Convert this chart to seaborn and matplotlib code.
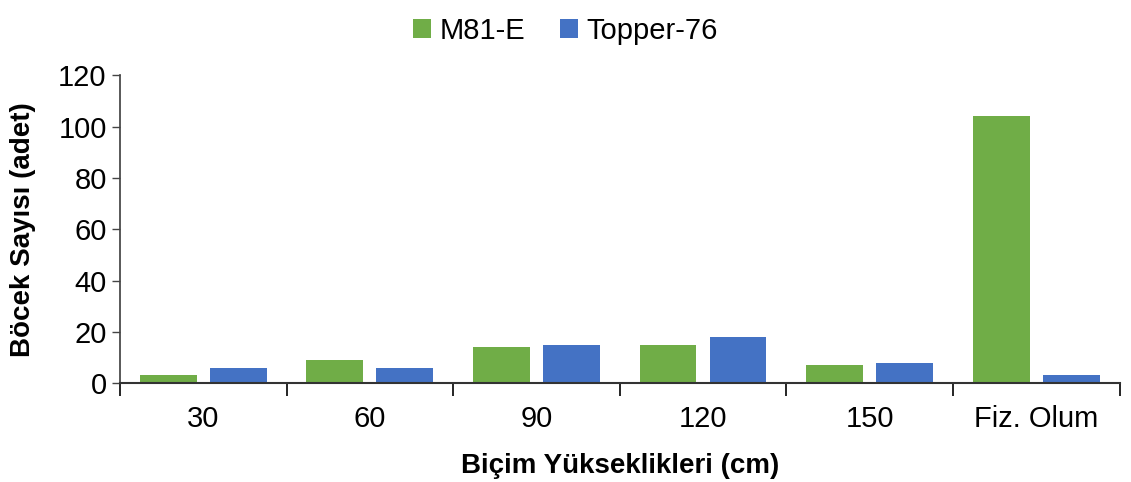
import matplotlib
matplotlib.use("Agg")
import matplotlib.pyplot as plt
import seaborn as sns
import pandas as pd
from matplotlib.patches import Patch

categories = ["30", "60", "90", "120", "150", "Fiz. Olum"]
m81e = [3, 9, 14, 15, 7, 104]
topper76 = [6, 6, 15, 18, 8, 3]
series_names = ["M81-E", "Topper-76"]
colors = ["#70AD47", "#4472C4"]

df = pd.DataFrame({
    "cat": categories * 2,
    "val": m81e + topper76,
    "series": [series_names[0]] * len(categories) + [series_names[1]] * len(categories),
})

sns.set_theme(style="white")
plt.rcParams['font.family'] = ['Liberation Sans', 'DejaVu Sans']
plt.rcParams['text.color'] = 'black'
plt.rcParams['axes.labelcolor'] = 'black'
plt.rcParams['xtick.color'] = 'black'
plt.rcParams['ytick.color'] = 'black'

fig = plt.figure(figsize=(11.31, 4.82), dpi=100)
ax = fig.add_axes([0.106, 0.205, 0.884, 0.639])
sns.barplot(data=df, x="cat", y="val", hue="series", order=categories,
            hue_order=series_names, palette=colors, width=0.84, gap=0.19,
            saturation=1, ax=ax, legend=False, linewidth=0)

ax.set_xlim(-0.5, 5.5)
ax.set_ylim(0, 120)
ax.set_yticks(range(0, 121, 20))
ax.tick_params(axis='y', labelsize=21, length=6, width=1, color='#444444', direction='out', left=True, labelcolor='black')
ax.tick_params(axis='x', which='major', labelsize=21, length=0, pad=16, labelcolor='black')
ax.set_xticks([i + 0.5 for i in range(-1, 6)], minor=True)
ax.tick_params(axis='x', which='minor', length=9, width=1.2, color='black', direction='out', bottom=True)

for s in ["top", "right"]:
    ax.spines[s].set_visible(False)
ax.spines["left"].set_color("#444444")
ax.spines["bottom"].set_color("#333333")
ax.spines["bottom"].set_linewidth(1.5)

ax.set_xlabel("Biçim Yükseklikleri (cm)", fontsize=20, fontweight='bold', labelpad=14, color='black')
ax.set_ylabel("Böcek Sayısı (adet)", fontsize=20, fontweight='bold', labelpad=16, color='black')

handles = [Patch(facecolor=c, edgecolor='none') for c in colors]
fig.legend(handles, series_names, loc='upper center', bbox_to_anchor=(0.5, 1.02), ncol=2,
           frameon=False, fontsize=21, handlelength=0.6, handleheight=0.6,
           handletextpad=0.3, columnspacing=1.2, labelcolor='black')

fig.savefig("out.png", dpi=100)
